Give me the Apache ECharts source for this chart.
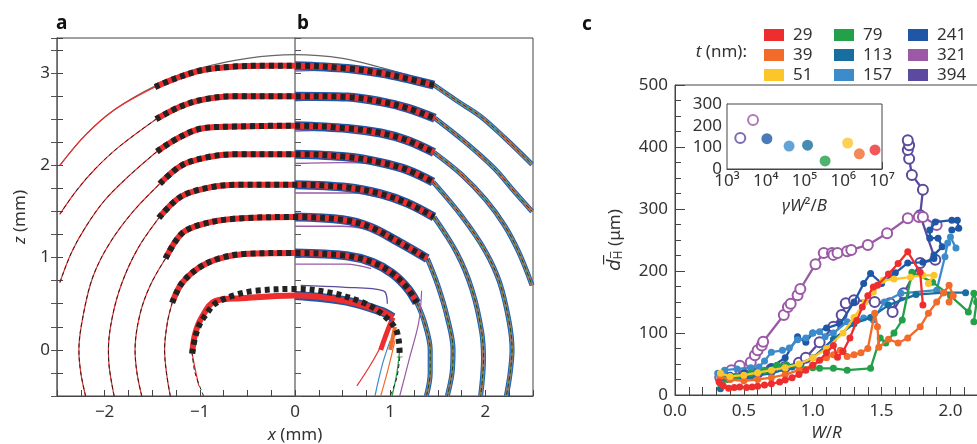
<!DOCTYPE html>
<html><head><meta charset="utf-8">
<script src="https://cdn.jsdelivr.net/npm/echarts@6/dist/echarts.min.js"></script>
<style>html,body{margin:0;padding:0;background:#fff}#c{width:977px;height:444px}</style>
</head><body><div id="c"></div><script>
// ---------- Panel a/b : profiles (x, z in mm) ----------
const grayArc = [[-2.47,2.0],[-2.2,2.33],[-1.9,2.6],[-1.47,2.86],[-1.0,3.05],[-0.5,3.16],[0,3.2],[0.5,3.16],[0.9,3.06],[1.2,2.97],[1.49,2.85]];
const a1Top = [[-1.47,2.85],[-1.26,2.94],[-0.98,3.03],[-0.64,3.07],[-0.28,3.08],[0,3.08]];
const b1Top = [[0,3.08],[0.55,3.05],[0.9,3.0],[1.18,2.94],[1.46,2.87]];
const a2Top = [[-1.46,2.5],[-1.22,2.63],[-0.98,2.71],[-0.64,2.75],[0,2.75]];
const b2Top = [[0,2.75],[0.55,2.74],[0.9,2.69],[1.18,2.62],[1.47,2.51]];
const a3Top = [[-1.45,2.15],[-1.22,2.3],[-0.98,2.4],[-0.64,2.42],[0,2.43]];
const b3Top = [[0,2.43],[0.55,2.4],[0.9,2.35],[1.18,2.27],[1.46,2.14]];
const a4Top = [[-1.42,1.8],[-1.19,2.0],[-0.91,2.09],[-0.64,2.12],[0,2.12]];
const b4Top = [[0,2.12],[0.55,2.09],[0.9,2.03],[1.18,1.95],[1.45,1.82]];
const a5Top = [[-1.43,1.43],[-1.2,1.66],[-0.9,1.76],[-0.6,1.79],[0,1.79]];
const b5Top = [[0,1.79],[0.55,1.76],[0.9,1.69],[1.18,1.59],[1.46,1.44]];
const a6Top = [[-1.36,0.99],[-1.19,1.26],[-0.98,1.36],[-0.64,1.42],[0,1.44]];
const b6Top = [[0,1.44],[0.5,1.41],[0.79,1.33],[1.07,1.18],[1.39,0.99]];
const a7Top = [[-1.29,0.51],[-1.19,0.72],[-1.01,0.89],[-0.8,0.99],[-0.53,1.04],[0,1.05]];
const b7Top = [[0,1.05],[0.54,1.02],[0.81,0.95],[1.02,0.83],[1.18,0.67],[1.28,0.51]];
const a8Dots = [[-1.08,-0.04],[-1.05,0.13],[-1.0,0.28],[-0.93,0.39],[-0.84,0.5],[-0.64,0.59],[-0.42,0.64],[0,0.66]];
const a8Red = [[-1.08,-0.04],[-1.05,0.17],[-0.98,0.35],[-0.84,0.53],[-0.56,0.56],[0,0.59]];
const b8Dots = [[0,0.66],[0.37,0.62],[0.72,0.51],[0.9,0.4],[1.05,0.24],[1.09,0.1],[1.1,-0.08]];
const b8Red = [[0,0.59],[0.54,0.53],[0.9,0.42],[1.03,0.35]];

const a1Arc = [[-2.47,2.0],[-2.2,2.33],[-1.9,2.6],[-1.47,2.85]];
const b1Arc = [[1.46,2.87],[1.7,2.7],[1.95,2.53],[2.2,2.3],[2.49,2.01]];
const a2Arc = [[-2.47,1.47],[-2.3,1.72],[-2.1,1.96],[-1.85,2.2],[-1.46,2.5]];
const b2Arc = [[1.47,2.51],[1.8,2.24],[2.1,1.96],[2.3,1.72],[2.49,1.5]];
const a3Arc = [[-2.47,0.73],[-2.35,1.05],[-2.2,1.33],[-2.0,1.62],[-1.75,1.88],[-1.45,2.15]];
const b3Arc = [[1.46,2.14],[1.75,1.9],[2.0,1.63],[2.2,1.35],[2.35,1.06],[2.49,0.7]];
const a4Arc = [[-2.2,-0.5],[-2.25,-0.25],[-2.27,0.0],[-2.22,0.4],[-2.12,0.8],[-1.95,1.15],[-1.7,1.5],[-1.42,1.8]];
const b4Arc = [[1.45,1.82],[1.75,1.45],[2.0,1.07],[2.15,0.73],[2.25,0.3],[2.28,0],[2.26,-0.25],[2.22,-0.5]];
const a5Arc = [[-1.9,-0.5],[-1.95,-0.2],[-1.96,0.0],[-1.92,0.35],[-1.82,0.72],[-1.65,1.1],[-1.43,1.43]];
const b5Arc = [[1.46,1.44],[1.7,1.05],[1.86,0.65],[1.96,0.2],[1.98,-0.1],[1.95,-0.5]];
const a6Arc = [[-1.61,-0.5],[-1.66,-0.25],[-1.68,0.0],[-1.63,0.38],[-1.52,0.7],[-1.36,0.99]];
const b6Arc = [[1.39,0.99],[1.5,0.7],[1.6,0.35],[1.66,0],[1.65,-0.25],[1.6,-0.5]];
const a7Arc = [[-1.31,-0.5],[-1.35,-0.25],[-1.37,0.0],[-1.34,0.3],[-1.29,0.51]];
const b7Arc = [[1.28,0.51],[1.36,0.3],[1.42,0.0],[1.42,-0.25],[1.38,-0.5]];
const a8Arc = [[-0.96,-0.5],[-1.05,-0.25],[-1.08,-0.04]];
const a8Tail = [[-1.01,-0.39],[-1.05,-0.2],[-1.08,-0.04]];
const b8TailRed = [[1.0,0.3],[0.93,0.1],[0.8,-0.15],[0.65,-0.39]];
const b8TailBlue = [[1.0,0.1],[0.92,-0.15],[0.84,-0.5]];
const b8TailOrange = [[1.05,0.1],[0.98,-0.2],[0.9,-0.5]];
const b8TailGreen = [[1.1,0.0],[1.07,-0.25],[1.02,-0.5]];
const b8TailDash = [[1.1,-0.08],[1.07,-0.3],[1.0,-0.5]];
const b8TailPurple = [[1.33,0.64],[1.3,0.3],[1.2,-0.1],[1.1,-0.5]];
const b8Blob = [[1.03,0.35],[0.97,0.2],[0.9,0.0]];
const b8BlobOrange = [[1.05,0.25],[1.0,0.0]];
const purpleTops = [
  [[0,3.02],[0.25,3.03],[0.55,3.03]],
  [[0,2.7],[0.3,2.71],[0.6,2.71]],
  [[0,2.37],[0.3,2.38],[0.6,2.38]],
  [[0,2.02],[0.5,2.03],[0.85,2.02]],
  [[0,1.7],[0.6,1.7],[0.95,1.64]],
  [[0,1.34],[0.5,1.34],[0.9,1.26],[1.15,1.1]],
  [[0,0.93],[0.54,0.93],[0.8,0.88]]
];
const indigoB8 = [[0.06,0.7],[0.5,0.68],[0.93,0.64],[0.97,0.5]];

// ---------- Panel c : mean d_H (µm) vs W/R ----------
const tLabels = ['29','39','51','79','113','157','241','321','394'];
const d29 = [[0.32,21],[0.35,15],[0.39,11],[0.43,12],[0.47,13],[0.52,12],[0.56,13],[0.6,14],[0.65,16],[0.7,18],[0.76,21],[0.8,24],[0.85,28],[0.9,33],[0.95,40],[1.0,48],[1.05,56],[1.1,68],[1.15,80],[1.18,61],[1.22,70],[1.27,92],[1.32,120],[1.36,142],[1.4,160],[1.44,174],[1.47,177],[1.55,195],[1.62,212],[1.69,231],[1.78,198],[1.8,145]];
const d39 = [[0.33,30],[0.4,25],[0.5,23],[0.6,25],[0.7,28],[0.8,33],[0.9,40],[1.0,48],[1.1,60],[1.15,65],[1.2,72],[1.25,62],[1.3,65],[1.35,68],[1.4,75],[1.45,132],[1.47,110],[1.48,77],[1.55,90],[1.62,84],[1.69,92],[1.78,110],[1.84,132],[1.9,150],[1.95,165],[1.99,177],[2.02,160],[1.99,150]];
const d51 = [[0.33,35],[0.4,30],[0.5,32],[0.6,36],[0.7,40],[0.8,44],[0.9,50],[1.0,60],[1.1,75],[1.22,100],[1.3,125],[1.38,150],[1.44,166],[1.51,185],[1.59,187],[1.71,190],[1.8,193],[1.88,193],[1.84,180]];
const d79 = [[0.33,18],[0.38,25],[0.45,30],[0.55,35],[0.65,40],[0.74,48],[0.81,48],[0.9,45],[1.0,44],[1.05,43],[1.15,43],[1.25,40],[1.42,43],[1.49,92],[1.53,84],[1.59,100],[1.65,121],[1.72,198],[1.87,182],[2.0,160],[2.13,134],[2.17,164],[2.19,150],[2.17,118]];
const d113 = [[0.33,10],[0.35,25],[0.45,28],[0.55,30],[0.7,35],[0.85,45],[1.0,60],[1.15,90],[1.3,115],[1.42,125],[1.55,145],[1.75,162],[1.95,165],[2.11,165]];
const d157 = [[0.31,35],[0.36,40],[0.45,42],[0.55,44],[0.61,45],[0.65,55],[0.7,69],[0.78,72],[0.83,76],[0.89,89],[0.95,92],[1.0,100],[1.05,102],[1.09,94],[1.15,100],[1.25,118],[1.37,124],[1.44,121],[1.52,150],[1.64,164],[1.9,169],[1.96,223],[1.98,245],[2.0,255],[2.04,237]];
const d241 = [[0.33,30],[0.4,32],[0.5,35],[0.6,38],[0.7,45],[0.8,60],[0.89,94],[0.95,85],[1.0,100],[1.1,108],[1.2,115],[1.3,150],[1.37,180],[1.42,196],[1.5,180],[1.6,197],[1.69,213],[1.8,214],[1.88,220],[1.88,226],[1.94,239],[1.91,253],[1.85,253],[1.85,266],[1.89,279],[2.01,282],[2.05,282],[2.06,269],[2.01,266]];
const d321 = [[0.33,29],[0.41,40],[0.47,47],[0.55,53],[0.58,64],[0.6,72],[0.63,80],[0.64,86],[0.79,129],[0.82,142],[0.84,147],[0.89,161],[0.91,171],[1.02,211],[1.08,229],[1.14,229],[1.15,226],[1.18,229],[1.25,232],[1.28,234],[1.4,242],[1.54,261],[1.69,285],[1.77,287],[1.8,287],[1.9,274]];
const d394 = [[0.33,28],[0.4,30],[0.5,33],[0.6,36],[0.7,42],[0.8,45],[0.9,52],[0.95,60],[1.05,85],[1.15,110],[1.21,129],[1.24,148],[1.3,153],[1.45,150],[1.56,148],[1.58,134],[1.66,164],[1.78,213],[1.89,218],[1.78,290],[1.8,331],[1.72,355],[1.7,381],[1.69,395],[1.7,403],[1.69,411]];
const mainData = [d29,d39,d51,d79,d113,d157,d241,d321,d394];
// inset: d_H vs gamma W^2 / B
const insetX = [6.6e6, 2.6e6, 1.3e6, 3.4e5, 1.2e5, 4.0e4, 1.07e4, 4.7e3, 2.2e3];
const insetY = [88, 70, 120, 37, 110, 106, 140, 226, 143];
const openSet = ['321','394'];

// ---------- styles ----------
const tColors = ['#ee2e2e','#f26b2a','#fcc62a','#22a04a','#176fa0','#3c8ccc','#1f57a6','#9b59a6','#5b4a9e'];
const FONT = '"Noto Sans", "DejaVu Sans", sans-serif';
const TXT = '#333';
const RED = '#ee2e2e', BLK = '#222';

function ln(data, color, width, ls, z) {
  return {type:'line', xAxisIndex:0, yAxisIndex:0, data, symbol:'none', showSymbol:false,
    smooth:0.35, silent:true, z: z||2,
    lineStyle: Object.assign({color, width, cap:'butt', join:'round'}, ls||{})};
}
const series = [];
series.push(ln(grayArc, '#666', 1.2, null, 2));
const aTops = [a1Top,a2Top,a3Top,a4Top,a5Top,a6Top,a7Top];
const bTops = [b1Top,b2Top,b3Top,b4Top,b5Top,b6Top,b7Top];
const aArcs = [a1Arc,a2Arc,a3Arc,a4Arc,a5Arc,a6Arc,a7Arc];
const bArcs = [b1Arc,b2Arc,b3Arc,b4Arc,b5Arc,b6Arc,b7Arc];
const bundle = [['#1f57a6',5],['#3c8ccc',3.4],['#f26b2a',2],['#22a04a',0.9]];
aArcs.forEach((d,i)=>{
  series.push(ln(d, RED, 1.2, null, 2));
  if (i>0) series.push(ln(d, BLK, 1, {type:[4,3]}, 3));
});
bArcs.forEach(d=>{
  bundle.forEach(([c,w])=>series.push(ln(d, c, w, null, 2)));
  series.push(ln(d, BLK, 0.8, {type:[4,3]}, 3));
});
purpleTops.forEach(d=>series.push(ln(d, '#9b59a6', 1.3, null, 3)));
series.push(ln(indigoB8, '#5b4a9e', 1.3, null, 3));
series.push(ln(a8Tail, RED, 1.2, null, 2));
series.push(ln(a8Arc, BLK, 1, {type:[4,3]}, 3));
series.push(ln(b8TailRed, RED, 1.2, null, 2));
series.push(ln(b8TailBlue, '#3c8ccc', 1.2, null, 2));
series.push(ln(b8TailOrange, '#f26b2a', 1.2, null, 2));
series.push(ln(b8TailGreen, '#22a04a', 1.2, null, 2));
series.push(ln(b8TailPurple, '#9b59a6', 1.2, null, 2));
series.push(ln(b8TailDash, BLK, 1, {type:[4,3]}, 3));
series.push(ln(b8Blob, RED, 5, null, 4));
series.push(ln(b8BlobOrange, '#f26b2a', 4, null, 4));
bTops.forEach(d=>series.push(ln(d, '#1f57a6', 9, null, 4)));
series.push(ln(b8Red, '#1f57a6', 9, null, 4));
aTops.forEach((d,i)=>{
  const full = d.concat(bTops[i].slice(1));
  series.push(ln(full, RED, 6, null, 5));
  series.push(ln(full, BLK, 6, {type:[5,4]}, 6));
});
series.push(ln(a8Red.concat(b8Red.slice(1)), RED, 6, null, 5));
series.push(ln(a8Dots.concat(b8Dots.slice(1)), BLK, 6, {type:[5,4]}, 6));

// ---------- panel c series ----------
const drawOrder = [8,7,6,5,4,3,1,2,0];
drawOrder.forEach((k, n)=>{
  const open = openSet.includes(tLabels[k]);
  series.push({type:'line', name:tLabels[k], xAxisIndex:1, yAxisIndex:3, data:mainData[k],
    symbol: open ? 'emptyCircle' : 'circle', symbolSize: open ? 10 : 7, showSymbol:true,
    color: tColors[k], itemStyle:{color:tColors[k], borderWidth: open ? 1.6 : 0},
    lineStyle:{color:tColors[k], width:2.3}, z: 10+n, silent:true});
});
tLabels.forEach((t,k)=>{
  const open = openSet.includes(t);
  series.push({type:'scatter', name:t, xAxisIndex:2, yAxisIndex:4, data:[[insetX[k], insetY[k]]],
    symbol: open ? 'emptyCircle' : 'circle', symbolSize: open ? 10 : 11,
    color: tColors[k], itemStyle:{color:tColors[k], borderWidth: open ? 1.6 : 0}, z:20, silent:true});
});

const sup = {3:'³',4:'⁴',5:'⁵',6:'⁶',7:'⁷'};
const axisLine = {show:true, onZero:false, lineStyle:{color:'#444', width:1}};
const lbl = {color:TXT, fontSize:17, fontFamily:FONT};
const minus = v => (v<0 ? '\u2212'+(-v) : String(v));

const legendBase = {orient:'vertical', top:20, icon:'rect', itemWidth:20, itemHeight:12, itemGap:0,
  selectedMode:false, textStyle:{color:TXT, fontSize:17, fontFamily:FONT, lineHeight:20, padding:[0,0,0,4]}};

const option = {
  animation:false,
  backgroundColor:'#fff',
  legend:[
    Object.assign({left:759, data:['29','39','51']}, legendBase),
    Object.assign({left:829, data:['79','113','157']}, legendBase),
    Object.assign({left:903, data:['241','321','394']}, legendBase)
  ],
  grid:[
    {left:57, top:38, width:476, height:358, show:true, borderColor:'#444', borderWidth:1, backgroundColor:'transparent', outerBoundsMode:'none', containLabel:false},
    {left:675, top:85, right:-1, height:310, show:true, borderColor:'#444', borderWidth:1, backgroundColor:'transparent', outerBoundsMode:'none', containLabel:false},
    {left:727, top:104, width:155, height:65, show:true, borderColor:'#444', borderWidth:1, backgroundColor:'#fff', outerBoundsMode:'none', containLabel:false, z:5}
  ],
  xAxis:[
    {type:'value', gridIndex:0, min:-2.5, max:2.5, interval:0.25, axisLine,
     axisTick:{inside:true, length:6, lineStyle:{color:'#444'}}, splitLine:{show:false},
     axisLabel:Object.assign({margin:8, formatter:v=>Number.isInteger(v)?minus(v):''}, lbl),
     name:'{i|x} (mm)', nameLocation:'middle', nameGap:31,
     nameTextStyle:{color:TXT, fontSize:17, fontFamily:FONT, rich:{i:{fontStyle:'italic', fontSize:17, fontFamily:FONT, color:TXT}}}},
    {type:'value', gridIndex:1, min:0, max:2.2, interval:0.5, axisLine,
     axisTick:{inside:true, length:8, lineStyle:{color:'#444'}},
     minorTick:{show:true, splitNumber:5, length:8, lineStyle:{color:'#444'}},
     splitLine:{show:false}, minorSplitLine:{show:false},
     axisLabel:Object.assign({margin:8, showMaxLabel:false, formatter:v=>(Math.abs(v*2-Math.round(v*2))<1e-9 && v<2.1)?v.toFixed(1):''}, lbl),
     name:'{i|W}/{i|R}', nameLocation:'middle', nameGap:29,
     nameTextStyle:{color:TXT, fontSize:17, fontFamily:FONT, rich:{i:{fontStyle:'italic', fontSize:17, fontFamily:FONT, color:TXT}}}},
    {type:'log', gridIndex:2, min:1e3, max:1e7, logBase:10, axisLine,
     axisTick:{inside:true, length:7, lineStyle:{color:'#444'}},
     minorTick:{show:true, splitNumber:9, length:4, lineStyle:{color:'#444'}},
     splitLine:{show:false}, minorSplitLine:{show:false},
     axisLabel:Object.assign({margin:4, formatter:v=>'10'+sup[Math.round(Math.log10(v))]}, lbl),
     name:'{i|γW}²/{i|B}', nameLocation:'middle', nameGap:29,
     nameTextStyle:{color:TXT, fontSize:17, fontFamily:FONT, rich:{i:{fontStyle:'italic', fontSize:17, fontFamily:FONT, color:TXT}}}}
  ],
  yAxis:[
    {type:'value', gridIndex:0, min:-0.5, max:3.38, interval:0.25, axisLine,
     axisTick:{inside:true, length:6, lineStyle:{color:'#444'}}, splitLine:{show:false},
     axisLabel:Object.assign({margin:7, formatter:v=>Number.isInteger(v)?minus(v):''}, lbl),
     name:'{i|z} (mm)', nameLocation:'middle', nameGap:28, nameRotate:90,
     nameTextStyle:{color:TXT, fontSize:17, fontFamily:FONT, rich:{i:{fontStyle:'italic', fontSize:17, fontFamily:FONT, color:TXT}}}},
    {type:'value', gridIndex:0, min:-0.5, max:3.38, interval:0.25, position:'left',
     axisLine:{show:true, onZero:true, lineStyle:{color:'#777', width:1.5}},
     axisTick:{inside:true, length:6, lineStyle:{color:'#555'}}, axisLabel:{show:false}, splitLine:{show:false}},
    {type:'value', gridIndex:0, min:-0.5, max:3.38, interval:0.25, position:'left',
     axisLine:{show:true, onZero:true, lineStyle:{color:'#777', width:1.5}},
     axisTick:{inside:false, length:6, lineStyle:{color:'#555'}}, axisLabel:{show:false}, splitLine:{show:false}},
    {type:'value', gridIndex:1, min:0, max:500, interval:100, axisLine,
     axisTick:{inside:true, length:10, lineStyle:{color:'#444'}},
     minorTick:{show:true, splitNumber:4, length:6, lineStyle:{color:'#444'}},
     splitLine:{show:false}, minorSplitLine:{show:false},
     axisLabel:Object.assign({margin:7}, lbl),
     name:'{d|d\u0305}{h|H\u0305} (μm)', nameLocation:'middle', nameGap:50, nameRotate:90,
     nameTextStyle:{color:TXT, fontSize:17, fontFamily:FONT,
       rich:{d:{fontStyle:'italic', fontSize:18, fontFamily:'"DejaVu Sans", sans-serif', color:TXT},
             h:{fontSize:12, fontFamily:'"DejaVu Sans", sans-serif', color:TXT, padding:[8,0,0,0]}}}},
    {type:'value', gridIndex:2, min:0, max:300, interval:100, axisLine,
     axisTick:{inside:true, length:6, lineStyle:{color:'#444'}},
     minorTick:{show:true, splitNumber:2, length:6, lineStyle:{color:'#444'}},
     splitLine:{show:false}, minorSplitLine:{show:false},
     axisLabel:Object.assign({margin:5}, lbl)}
  ],
  graphic:[
    {type:'text', x:56, y:24, style:{text:'a', align:'left', verticalAlign:'middle', font:'bold 19px "Noto Sans"', fill:'#111'}},
    {type:'text', x:297, y:24, style:{text:'b', align:'left', verticalAlign:'middle', font:'bold 19px "Noto Sans"', fill:'#111'}},
    {type:'text', x:582, y:25, style:{text:'c', align:'left', verticalAlign:'middle', font:'bold 19px "Noto Sans"', fill:'#111'}},
    {type:'text', x:747, y:52, style:{text:'{i|t} (nm):', align:'right', verticalAlign:'middle', fontSize:17, fontFamily:'Noto Sans', fill:TXT,
      rich:{i:{fontStyle:'italic', fontSize:17, fontFamily:'Noto Sans', fill:TXT}}}}
  ],
  series
};
const chart = echarts.init(document.getElementById('c'), null, {renderer:'canvas'});
chart.setOption(option);
</script></body></html>
